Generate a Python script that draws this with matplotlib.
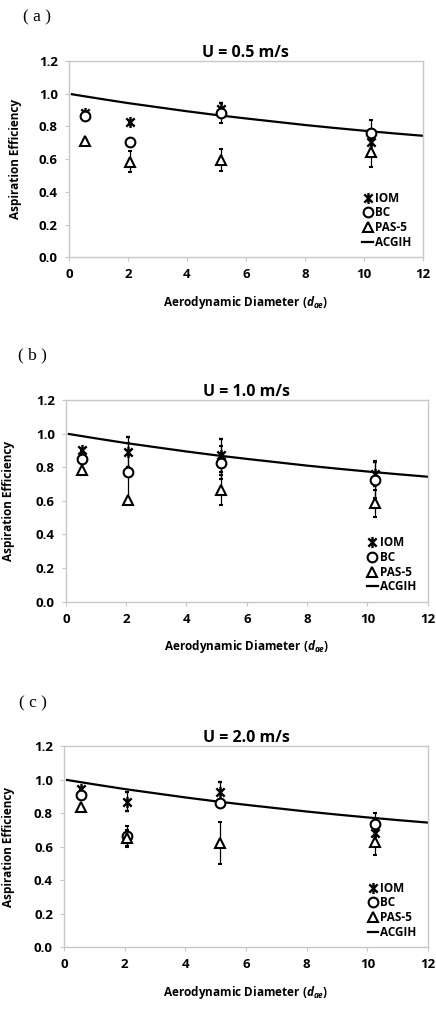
import numpy as np
import matplotlib
matplotlib.use("Agg")
import matplotlib.pyplot as plt
from matplotlib.path import Path
from matplotlib.lines import Line2D

plt.rcParams["font.family"] = ["Open Sans", "DejaVu Sans"]
plt.rcParams["font.weight"] = "bold"
plt.rcParams["mathtext.fontset"] = "custom"
plt.rcParams["mathtext.it"] = "Open Sans:italic:bold"
plt.rcParams["mathtext.rm"] = "Open Sans:bold"

# ======= DATOS =======
DIAM = [0.55, 2.07, 5.15, 10.25]

# curva ACGIH (valores leidos)
ACGIH_X = [0.1, 1, 2, 3, 4, 5, 6, 7, 8, 9, 10, 11, 12]
ACGIH_Y = [0.997, 0.971, 0.943, 0.918, 0.893, 0.870, 0.849, 0.829, 0.809, 0.791, 0.774, 0.758, 0.743]

TITLES = ["U = 0.5 m/s", "U = 1.0 m/s", "U = 2.0 m/s"]
PANEL_LABELS = ["( a )", "( b )", "( c )"]

IOM_A = [0.88, 0.83, 0.905, 0.705]
IOM_A_ERR = [0.0, 0.0, 0.04, 0.05]
BC_A = [0.864, 0.707, 0.884, 0.762]
BC_A_ERR = [0.0, 0.0, 0.06, 0.078]
PAS_A = [0.713, 0.585, 0.595, 0.645]
PAS_A_ERR = [0.0, 0.063, 0.07, 0.09]

IOM_B = [0.90, 0.89, 0.87, 0.76]
IOM_B_ERR = [0.0, 0.09, 0.10, 0.07]
BC_B = [0.847, 0.773, 0.827, 0.724]
BC_B_ERR = [0.0, 0.17, 0.10, 0.11]
PAS_B = [0.78, 0.605, 0.665, 0.585]
PAS_B_ERR = [0.0, 0.0, 0.09, 0.08]

IOM_C = [0.945, 0.868, 0.927, 0.68]
IOM_C_ERR = [0.0, 0.055, 0.06, 0.06]
BC_C = [0.905, 0.663, 0.858, 0.733]
BC_C_ERR = [0.0, 0.06, 0.0, 0.07]
PAS_C = [0.834, 0.65, 0.62, 0.63]
PAS_C_ERR = [0.0, 0.05, 0.125, 0.08]
# ===========================================

PANELS = [
    (IOM_A, IOM_A_ERR, BC_A, BC_A_ERR, PAS_A, PAS_A_ERR),
    (IOM_B, IOM_B_ERR, BC_B, BC_B_ERR, PAS_B, PAS_B_ERR),
    (IOM_C, IOM_C_ERR, BC_C, BC_C_ERR, PAS_C, PAS_C_ERR),
]

# posiciones de ejes en fraccion de figura
AX_RECTS = [
    [0.158, 0.745, 0.812, 0.1945],
    [0.151, 0.4037, 0.830, 0.200],
    [0.147, 0.0612, 0.835, 0.1995],
]
LABEL_POS = [(0.085, 0.983), (0.075, 0.648), (0.075, 0.303)]
YLABEL_X = [0.05, 0.034, 0.034]

# marcador estrella estilo Excel (X + linea vertical)
star = Path([(0, -1), (0, 1), (-0.75, -0.75), (0.75, 0.75), (-0.75, 0.75), (0.75, -0.75)],
            [Path.MOVETO, Path.LINETO, Path.MOVETO, Path.LINETO, Path.MOVETO, Path.LINETO])

fig = plt.figure(figsize=(4.36, 10.09), dpi=100)
grey = "#c8c8c8"

for i, (iom, iom_e, bc, bc_e, pas, pas_e) in enumerate(PANELS):
    ax = fig.add_axes(AX_RECTS[i])
    ax.plot(ACGIH_X, ACGIH_Y, color="black", lw=1.6, zorder=2)
    kw = dict(color="black", elinewidth=0.9, capsize=1.2, capthick=0.9, ls="none", zorder=3)
    star_kw = dict(marker=star, ms=8, mfc="black", mec="black", mew=1.7)
    circ_kw = dict(marker="o", ms=7, mfc="white", mec="black", mew=1.5)
    tri_kw = dict(marker="^", ms=7.5, mfc="white", mec="black", mew=1.5)
    ax.errorbar(DIAM, iom, yerr=iom_e, **star_kw, **kw)
    ax.errorbar(DIAM, bc, yerr=bc_e, **circ_kw, **kw)
    ax.errorbar(DIAM, pas, yerr=pas_e, **tri_kw, **kw)

    ax.set_xlim(0, 12)
    ax.set_ylim(0, 1.2)
    ax.set_xticks(range(0, 13, 2))
    ax.set_yticks(np.arange(0, 1.21, 0.2))
    ax.set_yticklabels([f"{v:.1f}" for v in np.arange(0, 1.21, 0.2)])
    for s in ax.spines.values():
        s.set_color(grey)
        s.set_linewidth(1.0)
    ax.tick_params(direction="out", length=3, color=grey, labelsize=9.5, pad=5)
    for lab in ax.get_xticklabels() + ax.get_yticklabels():
        lab.set_fontweight("bold")
    ax.set_title(TITLES[i], fontsize=11.5, fontweight="bold", pad=3)
    ax.set_xlabel(r"Aerodynamic Diameter ($\mathit{d_{ae}}$)", fontsize=8.5, fontweight="bold", labelpad=9)
    ax.set_ylabel("Aspiration Efficiency", fontsize=8.5, fontweight="bold")
    ax.yaxis.set_label_coords((YLABEL_X[i] - AX_RECTS[i][0]) / AX_RECTS[i][2], 0.5)

    handles = [Line2D([], [], ls="none", color="black", **star_kw),
               Line2D([], [], ls="none", color="black", **circ_kw),
               Line2D([], [], ls="none", color="black", **tri_kw),
               Line2D([], [], color="black", lw=1.6)]
    ax.legend(handles, ["IOM", "BC", "PAS-5", "ACGIH"], loc="lower right",
              bbox_to_anchor=(0.99, 0.0), frameon=False,
              handlelength=0.9, handletextpad=0.15, labelspacing=0.15, borderaxespad=0.3,
              prop={"family": "Open Sans", "weight": "bold", "size": 8.5})

    fig.text(LABEL_POS[i][0], LABEL_POS[i][1], PANEL_LABELS[i], fontsize=12.5,
             family="Liberation Serif", fontweight="normal", ha="center", va="center")

fig.savefig("out.png", dpi=100)
